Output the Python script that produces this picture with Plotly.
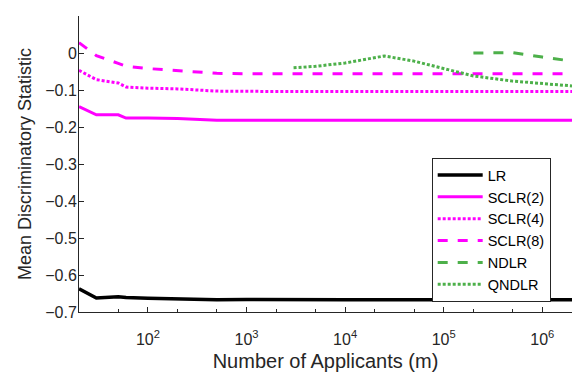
import plotly.graph_objects as go

# Number of applicants (m) sampled for each model
m_main = [20, 30, 50, 60, 100, 200, 500, 1000, 2000, 5000, 10000, 20000, 50000,
          100000, 200000, 500000, 1000000, 2000000]

lr = [-0.637, -0.662, -0.659, -0.661, -0.663, -0.665, -0.667, -0.666, -0.667, -0.667,
      -0.667, -0.667, -0.667, -0.667, -0.667, -0.667, -0.667, -0.667]
sclr2 = [-0.145, -0.167, -0.167, -0.176, -0.176, -0.177, -0.182, -0.182, -0.182, -0.182,
         -0.182, -0.182, -0.182, -0.182, -0.182, -0.182, -0.182, -0.182]
sclr4 = [-0.047, -0.072, -0.081, -0.092, -0.095, -0.097, -0.103, -0.104, -0.104, -0.104,
         -0.104, -0.104, -0.104, -0.104, -0.104, -0.104, -0.104, -0.104]
sclr8 = [0.028, -0.007, -0.028, -0.036, -0.042, -0.047, -0.055, -0.056, -0.056, -0.056,
         -0.056, -0.056, -0.056, -0.056, -0.056, -0.056, -0.056, -0.056]

m_ndlr = [200000, 500000, 1000000, 2000000]
ndlr = [0.0, 0.001, -0.011, -0.022]

m_qndlr = [3000, 5000, 10000, 25000, 50000, 100000, 200000, 500000, 1000000, 2000000]
qndlr = [-0.040, -0.036, -0.027, -0.008, -0.022, -0.043, -0.062, -0.076, -0.083, -0.089]

y_ticks = [-0.7, -0.6, -0.5, -0.4, -0.3, -0.2, -0.1, 0]
y_labels = ["\u22120.7", "\u22120.6", "\u22120.5", "\u22120.4", "\u22120.3", "\u22120.2", "\u22120.1", "0"]
x_ticks = [100, 1000, 10000, 100000, 1000000]
x_labels = ["10<sup>2</sup>", "10<sup>3</sup>", "10<sup>4</sup>", "10<sup>5</sup>", "10<sup>6</sup>"]

MAGENTA = "#FF00FF"
GREEN = "rgb(77,176,74)"
TEXT = "#262626"
FAMILY = "Liberation Sans, Arial, sans-serif"
W = 3

fig = go.Figure()
fig.add_trace(go.Scatter(x=m_main, y=lr, mode="lines", name="LR",
                         line=dict(color="black", width=3.5)))
fig.add_trace(go.Scatter(x=m_main, y=sclr2, mode="lines", name="SCLR(2)",
                         line=dict(color=MAGENTA, width=W)))
fig.add_trace(go.Scatter(x=m_main, y=sclr4, mode="lines", name="SCLR(4)",
                         line=dict(color=MAGENTA, width=W, dash="3px,2px")))
fig.add_trace(go.Scatter(x=m_main, y=sclr8, mode="lines", name="SCLR(8)",
                         line=dict(color=MAGENTA, width=W, dash="10px,10px")))
fig.add_trace(go.Scatter(x=m_ndlr, y=ndlr, mode="lines", name="NDLR",
                         line=dict(color=GREEN, width=W, dash="10px,10px")))
fig.add_trace(go.Scatter(x=m_qndlr, y=qndlr, mode="lines", name="QNDLR",
                         line=dict(color=GREEN, width=W, dash="3px,2px")))

tick_font = dict(family=FAMILY, size=16, color=TEXT)

fig.update_layout(
    width=573, height=372,
    margin=dict(l=79, r=1, t=16, b=60),
    paper_bgcolor="white", plot_bgcolor="white",
    font=tick_font,
    showlegend=True,
    legend=dict(
        x=0.7154, y=0.520, xanchor="left", yanchor="top",
        bgcolor="white", bordercolor=TEXT, borderwidth=1,
        font=dict(family=FAMILY, size=14.5, color="black"),
        tracegroupgap=0, itemwidth=45,
    ),
)

fig.update_xaxes(
    type="log", range=[1.30103, 6.30103],
    tickvals=x_ticks, ticktext=x_labels,
    ticks="inside", ticklen=5, tickcolor=TEXT, tickwidth=1,
    ticklabelstandoff=13,
    minor=dict(ticks="inside", ticklen=3, tickcolor=TEXT, tickwidth=1, showgrid=False),
    showline=True, linecolor=TEXT, linewidth=1,
    showgrid=False, zeroline=False,
    tickfont=tick_font,
    title=dict(text="Number of Applicants (m)",
               font=dict(family=FAMILY, size=20, color=TEXT), standoff=8),
)
fig.update_yaxes(
    range=[-0.7, 0.1],
    tickvals=y_ticks, ticktext=y_labels,
    ticks="inside", ticklen=5, tickcolor=TEXT, tickwidth=1,
    ticklabelstandoff=-2,
    showline=True, linecolor=TEXT, linewidth=1,
    showgrid=False, zeroline=False,
    tickfont=tick_font,
    title=dict(text="Mean Discriminatory Statistic",
               font=dict(family=FAMILY, size=18, color=TEXT), standoff=8),
)

fig.write_html("out.html")
